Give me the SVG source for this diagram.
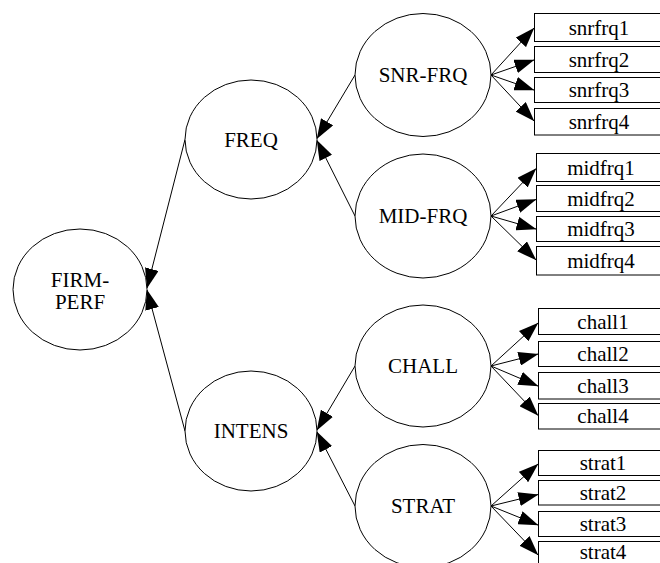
<svg xmlns="http://www.w3.org/2000/svg" width="660" height="563" viewBox="0 0 660 563">
  <defs>
    <marker id="head" viewBox="0 0 20 14" markerWidth="20" markerHeight="14" refX="19.5" refY="7" orient="auto" markerUnits="userSpaceOnUse">
      <polygon points="0,0 20,7 0,14" fill="#000"/>
    </marker>
  </defs>
  <style>
    ellipse, rect.box { fill: #fff; stroke: #000; stroke-width: 1; }
    line { stroke: #000; stroke-width: 1; }
    text { font-family: "Liberation Serif", "Times New Roman", Times, serif; font-size: 21px; fill: #000; text-anchor: middle; }
  </style>
  <rect width="660" height="563" fill="#fff"/>

  <!-- connectors -->
  <g id="connectors">
    <!-- second-order factors to FIRM-PERF -->
    <line x1="185" y1="139.5" x2="147" y2="288" marker-end="url(#head)"/>
    <line x1="185" y1="431" x2="147" y2="290" marker-end="url(#head)"/>
    <!-- first-order factors to second-order factors -->
    <line x1="355" y1="75" x2="317" y2="138.5" marker-end="url(#head)"/>
    <line x1="355" y1="216" x2="317" y2="140.5" marker-end="url(#head)"/>
    <line x1="355" y1="366" x2="317" y2="430" marker-end="url(#head)"/>
    <line x1="355" y1="506" x2="317" y2="432" marker-end="url(#head)"/>
    <!-- SNR-FRQ indicators -->
    <line x1="491" y1="75" x2="534" y2="28" marker-end="url(#head)"/>
    <line x1="491" y1="75" x2="534" y2="60" marker-end="url(#head)"/>
    <line x1="491" y1="75" x2="534" y2="90" marker-end="url(#head)"/>
    <line x1="491" y1="75" x2="534" y2="121" marker-end="url(#head)"/>
    <!-- MID-FRQ indicators -->
    <line x1="491" y1="216" x2="536" y2="168.5" marker-end="url(#head)"/>
    <line x1="491" y1="216" x2="536" y2="199.5" marker-end="url(#head)"/>
    <line x1="491" y1="216" x2="536" y2="229" marker-end="url(#head)"/>
    <line x1="491" y1="216" x2="536" y2="260" marker-end="url(#head)"/>
    <!-- CHALL indicators -->
    <line x1="491" y1="366" x2="538" y2="323" marker-end="url(#head)"/>
    <line x1="491" y1="366" x2="538" y2="354" marker-end="url(#head)"/>
    <line x1="491" y1="366" x2="538" y2="386" marker-end="url(#head)"/>
    <line x1="491" y1="366" x2="538" y2="415.5" marker-end="url(#head)"/>
    <!-- STRAT indicators -->
    <line x1="491" y1="506" x2="538" y2="464" marker-end="url(#head)"/>
    <line x1="491" y1="506" x2="538" y2="494.5" marker-end="url(#head)"/>
    <line x1="491" y1="506" x2="538" y2="525" marker-end="url(#head)"/>
    <line x1="491" y1="506" x2="538" y2="555" marker-end="url(#head)"/>
  </g>

  <!-- latent factors -->
  <g id="firm-perf">
    <ellipse cx="80" cy="289.5" rx="67" ry="60.5"/>
    <text x="80" y="286.5">FIRM-</text>
    <text x="80" y="309">PERF</text>
  </g>
  <g id="freq">
    <ellipse cx="251" cy="139.5" rx="66" ry="59.5"/>
    <text x="251" y="146.5">FREQ</text>
  </g>
  <g id="intens">
    <ellipse cx="251" cy="431" rx="66" ry="60"/>
    <text x="251" y="438">INTENS</text>
  </g>
  <g id="snr-frq">
    <ellipse cx="423" cy="75" rx="68" ry="61.5"/>
    <text x="423" y="82">SNR-FRQ</text>
  </g>
  <g id="mid-frq">
    <ellipse cx="423" cy="216" rx="68" ry="62"/>
    <text x="423" y="223">MID-FRQ</text>
  </g>
  <g id="chall">
    <ellipse cx="423" cy="366" rx="68" ry="61"/>
    <text x="423" y="373">CHALL</text>
  </g>
  <g id="strat">
    <ellipse cx="423" cy="506" rx="68" ry="61.5"/>
    <text x="423" y="513">STRAT</text>
  </g>

  <!-- observed indicators -->
  <g id="snrfrq1"><rect class="box" x="534.5" y="13.5" width="130" height="28"/><text x="599" y="35">snrfrq1</text></g>
  <g id="snrfrq2"><rect class="box" x="534.5" y="46.5" width="130" height="26"/><text x="599" y="66.5">snrfrq2</text></g>
  <g id="snrfrq3"><rect class="box" x="534.5" y="77.5" width="130" height="25"/><text x="599" y="97">snrfrq3</text></g>
  <g id="snrfrq4"><rect class="box" x="534.5" y="108.5" width="130" height="26.5"/><text x="599" y="128.5">snrfrq4</text></g>

  <g id="midfrq1"><rect class="box" x="536.5" y="153.5" width="130" height="28"/><text x="601" y="175">midfrq1</text></g>
  <g id="midfrq2"><rect class="box" x="536.5" y="185.5" width="130" height="26"/><text x="601" y="205.5">midfrq2</text></g>
  <g id="midfrq3"><rect class="box" x="536.5" y="216.5" width="130" height="25"/><text x="601" y="236">midfrq3</text></g>
  <g id="midfrq4"><rect class="box" x="536.5" y="246.5" width="130" height="28.5"/><text x="601" y="267.5">midfrq4</text></g>

  <g id="chall1"><rect class="box" x="538.5" y="308.5" width="130" height="26"/><text x="603" y="328.5">chall1</text></g>
  <g id="chall2"><rect class="box" x="538.5" y="341.5" width="130" height="25"/><text x="603" y="361">chall2</text></g>
  <g id="chall3"><rect class="box" x="538.5" y="372.5" width="130" height="26.5"/><text x="603" y="392.5">chall3</text></g>
  <g id="chall4"><rect class="box" x="538.5" y="403.5" width="130" height="25.5"/><text x="603" y="423">chall4</text></g>

  <g id="strat1"><rect class="box" x="538.5" y="450.5" width="130" height="25"/><text x="603" y="469.5">strat1</text></g>
  <g id="strat2"><rect class="box" x="538.5" y="480.5" width="130" height="24.5"/><text x="603" y="499.5">strat2</text></g>
  <g id="strat3"><rect class="box" x="538.5" y="511.5" width="130" height="25"/><text x="603" y="530.5">strat3</text></g>
  <g id="strat4"><rect class="box" x="538.5" y="541.5" width="130" height="28"/><text x="603" y="559">strat4</text></g>
</svg>
